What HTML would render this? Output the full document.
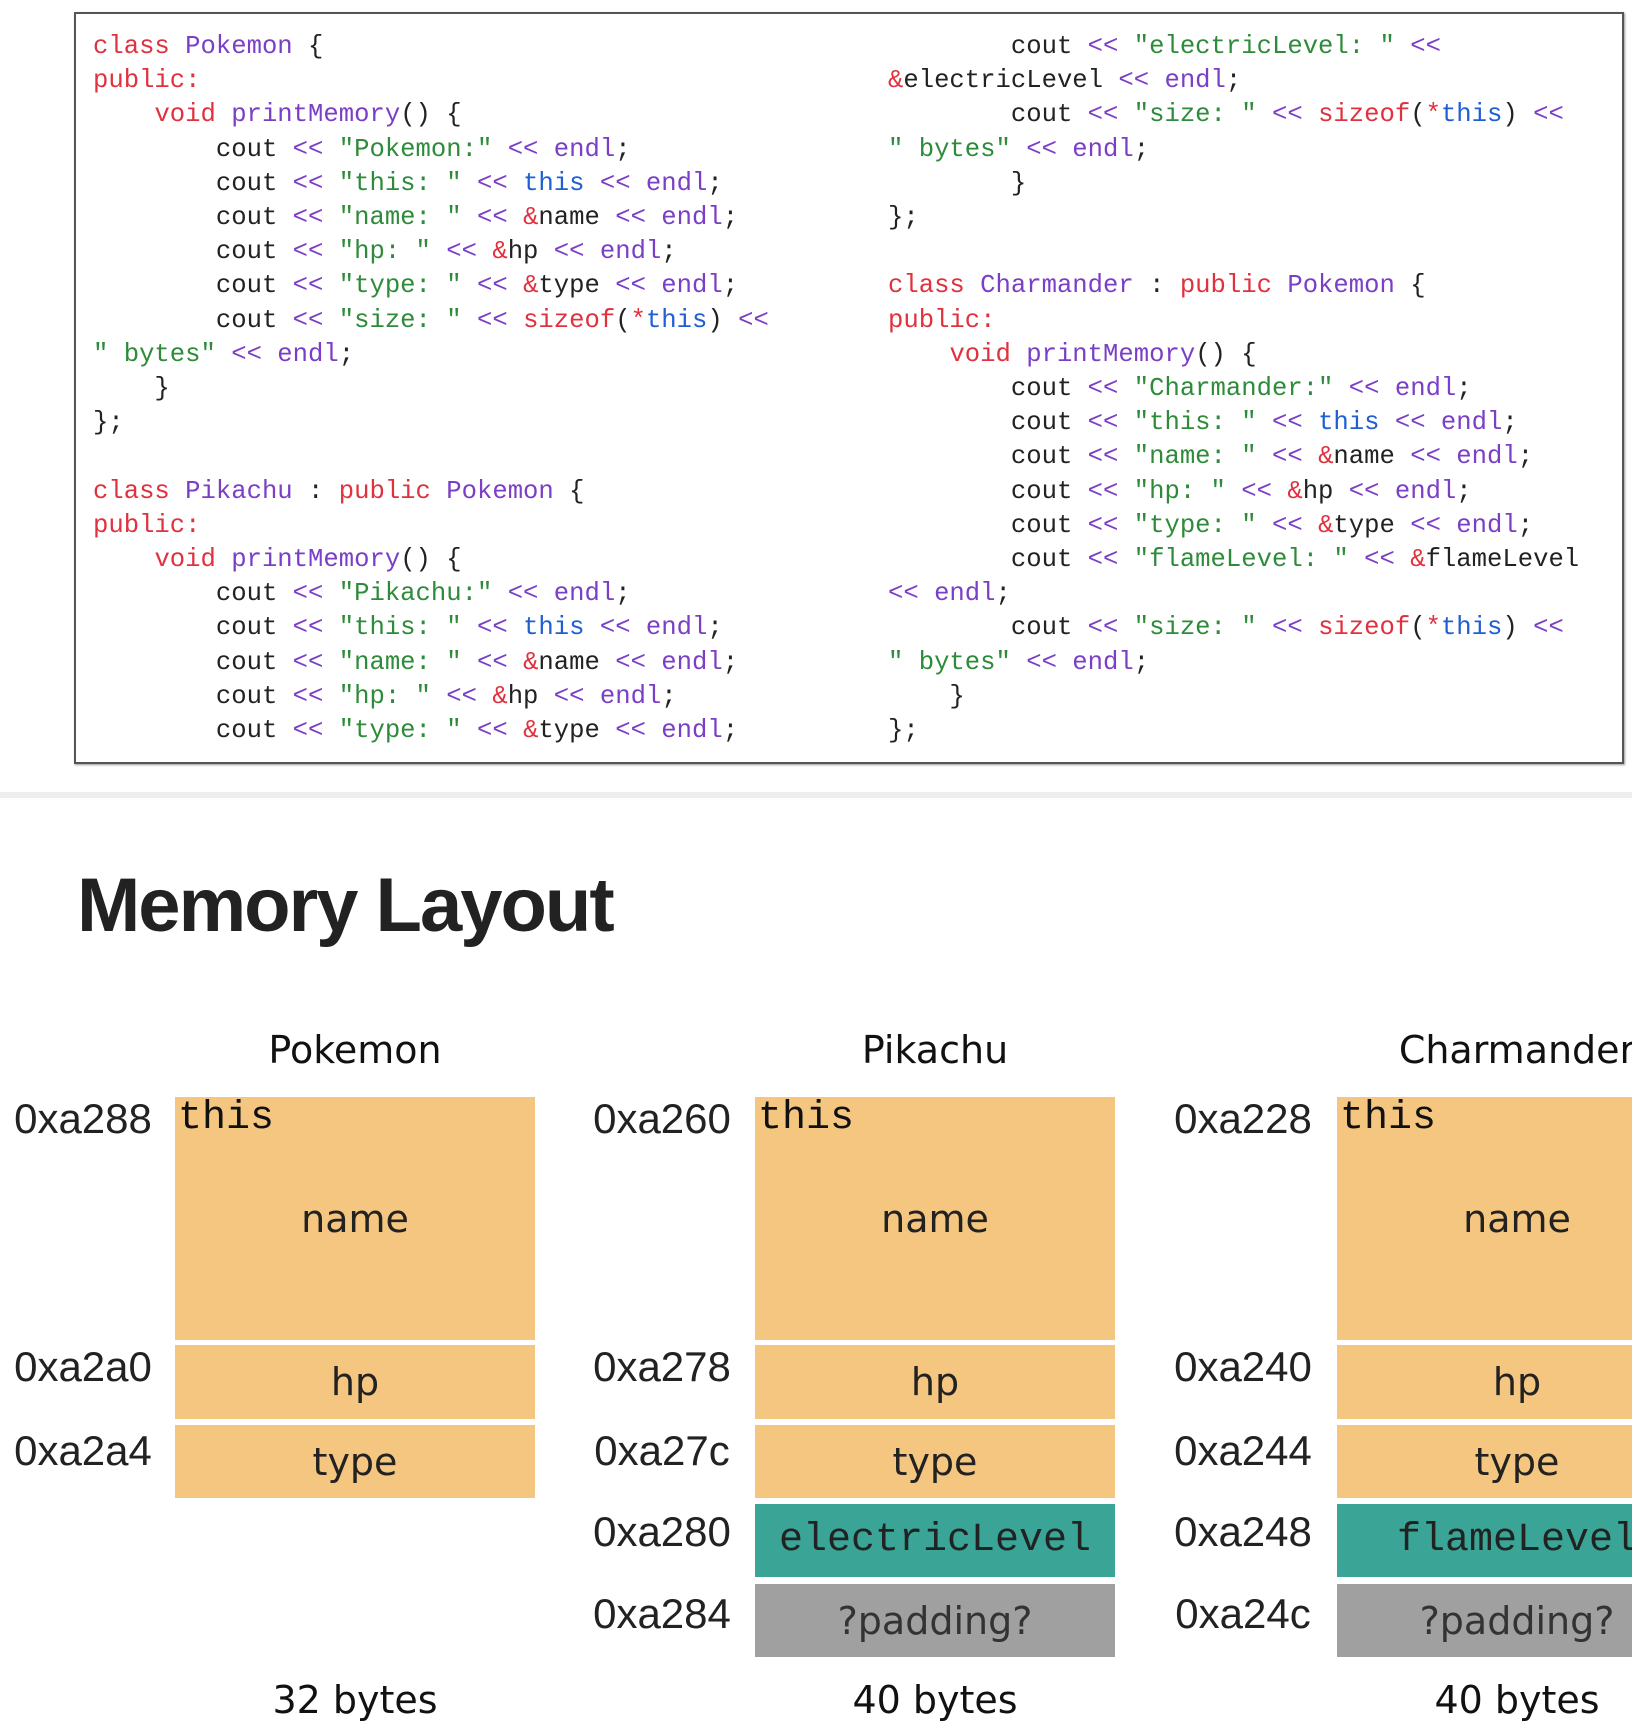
<!DOCTYPE html>
<html><head><meta charset="utf-8"><style>
html,body{margin:0;padding:0;background:#fff;width:1632px;height:1724px;overflow:hidden;position:relative}
.box{position:absolute;left:74px;top:12px;width:1550px;height:752px;border:2px solid #555;box-sizing:border-box;box-shadow:1px 1px 2px #999}
pre{position:absolute;margin:0;font-family:"Liberation Mono",monospace;font-size:25.6px;line-height:34.2px;color:#222}
.k{color:#e0313f}.c{color:#7a3fc6}.t{color:#1f5fd3}.s{color:#2e8b3a}
.sep{position:absolute;left:0;top:792px;width:1632px;height:6px;background:#eee}
h1{position:absolute;left:77px;top:862px;margin:0;font:bold 76px "Liberation Sans",sans-serif;letter-spacing:-2px;color:#222}
.a{position:absolute;font:42px "Liberation Sans",sans-serif;color:#222;width:150px;text-align:center;line-height:50px}
.ti{position:absolute;font:38px "DejaVu Sans","Liberation Sans",sans-serif;color:#111;width:360px;text-align:center;line-height:50px}
.b{position:absolute;width:360px;display:flex;align-items:center;justify-content:center;font:38px "DejaVu Sans","Liberation Sans",sans-serif;color:#222}
.o{background:#f4c67f}.g{background:#3aa596}.p{background:#a0a0a0;color:#333}
.m{font-family:"Liberation Mono",monospace;font-size:40px}
.th{position:absolute;font:40px "Liberation Mono",monospace;color:#111;line-height:50px}
</style></head><body>
<div class="box"></div>
<pre style="left:93px;top:30px"><span class="k">class</span> <span class="c">Pokemon</span> {
<span class="k">public:</span>
    <span class="k">void</span> <span class="c">printMemory</span>() {
        cout <span class="c">&lt;&lt;</span> <span class="s">"Pokemon:"</span> <span class="c">&lt;&lt; endl</span>;
        cout <span class="c">&lt;&lt;</span> <span class="s">"this: "</span> <span class="c">&lt;&lt;</span> <span class="t">this</span> <span class="c">&lt;&lt; endl</span>;
        cout <span class="c">&lt;&lt;</span> <span class="s">"name: "</span> <span class="c">&lt;&lt;</span> <span class="k">&amp;</span>name <span class="c">&lt;&lt; endl</span>;
        cout <span class="c">&lt;&lt;</span> <span class="s">"hp: "</span> <span class="c">&lt;&lt;</span> <span class="k">&amp;</span>hp <span class="c">&lt;&lt; endl</span>;
        cout <span class="c">&lt;&lt;</span> <span class="s">"type: "</span> <span class="c">&lt;&lt;</span> <span class="k">&amp;</span>type <span class="c">&lt;&lt; endl</span>;
        cout <span class="c">&lt;&lt;</span> <span class="s">"size: "</span> <span class="c">&lt;&lt;</span> <span class="k">sizeof</span>(<span class="k">*</span><span class="t">this</span>) <span class="c">&lt;&lt;</span>
<span class="s">" bytes"</span> <span class="c">&lt;&lt; endl</span>;
    }
};

<span class="k">class</span> <span class="c">Pikachu</span> : <span class="k">public</span> <span class="c">Pokemon</span> {
<span class="k">public:</span>
    <span class="k">void</span> <span class="c">printMemory</span>() {
        cout <span class="c">&lt;&lt;</span> <span class="s">"Pikachu:"</span> <span class="c">&lt;&lt; endl</span>;
        cout <span class="c">&lt;&lt;</span> <span class="s">"this: "</span> <span class="c">&lt;&lt;</span> <span class="t">this</span> <span class="c">&lt;&lt; endl</span>;
        cout <span class="c">&lt;&lt;</span> <span class="s">"name: "</span> <span class="c">&lt;&lt;</span> <span class="k">&amp;</span>name <span class="c">&lt;&lt; endl</span>;
        cout <span class="c">&lt;&lt;</span> <span class="s">"hp: "</span> <span class="c">&lt;&lt;</span> <span class="k">&amp;</span>hp <span class="c">&lt;&lt; endl</span>;
        cout <span class="c">&lt;&lt;</span> <span class="s">"type: "</span> <span class="c">&lt;&lt;</span> <span class="k">&amp;</span>type <span class="c">&lt;&lt; endl</span>;</pre>
<pre style="left:888px;top:30px">        cout <span class="c">&lt;&lt;</span> <span class="s">"electricLevel: "</span> <span class="c">&lt;&lt;</span>
<span class="k">&amp;</span>electricLevel <span class="c">&lt;&lt; endl</span>;
        cout <span class="c">&lt;&lt;</span> <span class="s">"size: "</span> <span class="c">&lt;&lt;</span> <span class="k">sizeof</span>(<span class="k">*</span><span class="t">this</span>) <span class="c">&lt;&lt;</span>
<span class="s">" bytes"</span> <span class="c">&lt;&lt; endl</span>;
        }
};

<span class="k">class</span> <span class="c">Charmander</span> : <span class="k">public</span> <span class="c">Pokemon</span> {
<span class="k">public:</span>
    <span class="k">void</span> <span class="c">printMemory</span>() {
        cout <span class="c">&lt;&lt;</span> <span class="s">"Charmander:"</span> <span class="c">&lt;&lt; endl</span>;
        cout <span class="c">&lt;&lt;</span> <span class="s">"this: "</span> <span class="c">&lt;&lt;</span> <span class="t">this</span> <span class="c">&lt;&lt; endl</span>;
        cout <span class="c">&lt;&lt;</span> <span class="s">"name: "</span> <span class="c">&lt;&lt;</span> <span class="k">&amp;</span>name <span class="c">&lt;&lt; endl</span>;
        cout <span class="c">&lt;&lt;</span> <span class="s">"hp: "</span> <span class="c">&lt;&lt;</span> <span class="k">&amp;</span>hp <span class="c">&lt;&lt; endl</span>;
        cout <span class="c">&lt;&lt;</span> <span class="s">"type: "</span> <span class="c">&lt;&lt;</span> <span class="k">&amp;</span>type <span class="c">&lt;&lt; endl</span>;
        cout <span class="c">&lt;&lt;</span> <span class="s">"flameLevel: "</span> <span class="c">&lt;&lt;</span> <span class="k">&amp;</span>flameLevel
<span class="c">&lt;&lt; endl</span>;
        cout <span class="c">&lt;&lt;</span> <span class="s">"size: "</span> <span class="c">&lt;&lt;</span> <span class="k">sizeof</span>(<span class="k">*</span><span class="t">this</span>) <span class="c">&lt;&lt;</span>
<span class="s">" bytes"</span> <span class="c">&lt;&lt; endl</span>;
    }
};</pre>
<div class="sep"></div>
<h1>Memory Layout</h1>

<!-- Pokemon -->
<div class="ti" style="left:175px;top:1025px">Pokemon</div>
<div class="b o" style="left:175px;top:1097px;height:243px">name</div>
<div class="th" style="left:178px;top:1094px">this</div>
<div class="b o" style="left:175px;top:1345px;height:74px">hp</div>
<div class="b o" style="left:175px;top:1425px;height:73px">type</div>
<div class="a" style="left:8px;top:1094px">0xa288</div>
<div class="a" style="left:8px;top:1342px">0xa2a0</div>
<div class="a" style="left:8px;top:1426px">0xa2a4</div>
<div class="ti" style="left:175px;top:1675px">32 bytes</div>

<!-- Pikachu -->
<div class="ti" style="left:755px;top:1025px">Pikachu</div>
<div class="b o" style="left:755px;top:1097px;height:243px">name</div>
<div class="th" style="left:758px;top:1094px">this</div>
<div class="b o" style="left:755px;top:1345px;height:74px">hp</div>
<div class="b o" style="left:755px;top:1425px;height:73px">type</div>
<div class="b g m" style="left:755px;top:1504px;height:73px">electricLevel</div>
<div class="b p" style="left:755px;top:1584px;height:73px">?padding?</div>
<div class="a" style="left:587px;top:1094px">0xa260</div>
<div class="a" style="left:587px;top:1342px">0xa278</div>
<div class="a" style="left:587px;top:1426px">0xa27c</div>
<div class="a" style="left:587px;top:1507px">0xa280</div>
<div class="a" style="left:587px;top:1589px">0xa284</div>
<div class="ti" style="left:755px;top:1675px">40 bytes</div>

<!-- Charmander -->
<div class="ti" style="left:1337px;top:1025px">Charmander</div>
<div class="b o" style="left:1337px;top:1097px;height:243px">name</div>
<div class="th" style="left:1340px;top:1094px">this</div>
<div class="b o" style="left:1337px;top:1345px;height:74px">hp</div>
<div class="b o" style="left:1337px;top:1425px;height:73px">type</div>
<div class="b g m" style="left:1337px;top:1504px;height:73px">flameLevel</div>
<div class="b p" style="left:1337px;top:1584px;height:73px">?padding?</div>
<div class="a" style="left:1168px;top:1094px">0xa228</div>
<div class="a" style="left:1168px;top:1342px">0xa240</div>
<div class="a" style="left:1168px;top:1426px">0xa244</div>
<div class="a" style="left:1168px;top:1507px">0xa248</div>
<div class="a" style="left:1168px;top:1589px">0xa24c</div>
<div class="ti" style="left:1337px;top:1675px">40 bytes</div>
</body></html>
